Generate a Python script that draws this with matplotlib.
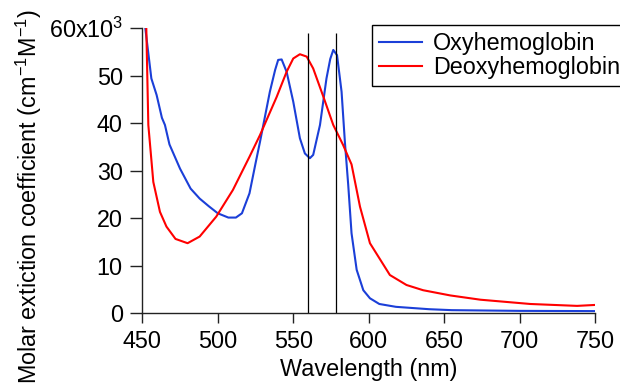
import matplotlib
matplotlib.use('Agg')
import matplotlib.pyplot as plt
import numpy as np

# font setup (Arial-like)
plt.rcParams['font.family'] = ['Liberation Sans', 'DejaVu Sans']
plt.rcParams['mathtext.fontset'] = 'custom'
plt.rcParams['mathtext.rm'] = 'Liberation Sans'
plt.rcParams['mathtext.it'] = 'Liberation Sans'
plt.rcParams['font.size'] = 16.8

# oxyhemoglobin (values in units of 10^3 cm-1 M-1)
oxy_wl = [450, 452, 456, 459.5, 463, 465, 468, 475, 482, 488, 494, 500, 507, 512,
          516, 521, 525, 528, 534.5, 538, 540, 542.3, 545.6, 550, 554.4, 557.7,
          561, 563.2, 567.7, 572, 574.5, 576.5, 579, 582, 584.2, 586.4, 588.6,
          592, 596.4, 600.8, 607, 618, 640, 655, 700, 750]
oxy_val = [62.8, 60.0, 49.4, 45.9, 41.1, 39.6, 35.5, 30.4, 26.2, 24.1, 22.5, 21.0,
           20.1, 20.1, 21.0, 25.2, 31.5, 36.1, 46.6, 51.2, 53.3, 53.4, 50.8, 44.5,
           36.8, 33.6, 32.6, 33.3, 39.6, 49.4, 53.5, 55.4, 54.3, 46.6, 36.0, 27.0,
           16.8, 9.1, 4.8, 3.1, 1.9, 1.3, 0.8, 0.6, 0.45, 0.4]

# deoxyhemoglobin
deoxy_wl = [450, 452, 454, 457.3, 461.7, 466, 472, 480, 488, 499, 510, 521, 528,
            539, 545.6, 550, 554.4, 558.9, 563.2, 570, 576.5, 583, 586.4, 588.6,
            594.2, 600.8, 614, 625, 636, 654, 674, 707, 738, 750]
deoxy_val = [103.0, 70.0, 39.6, 27.6, 21.3, 18.2, 15.6, 14.7, 16.1, 20.3, 25.9,
             32.9, 37.5, 45.5, 50.8, 53.6, 54.5, 54.0, 51.5, 45.5, 39.6, 35.4,
             32.9, 31.3, 22.4, 14.7, 8.0, 5.9, 4.8, 3.7, 2.8, 1.9, 1.5, 1.7]

# marker wavelengths (vertical lines)
marks = [560, 578]

yticks = [0, 10, 20, 30, 40, 50, 60]
ytick_labels = ['0', '10', '20', '30', '40', '50', r'60x10$^3$']
xticks = [450, 500, 550, 600, 650, 700, 750]

fig = plt.figure(figsize=(6.2, 3.85), dpi=100)
ax = fig.add_axes([0.2295, 0.187, 0.7305, 0.740])

ax.plot(oxy_wl, oxy_val, color='#1b3fd8', lw=1.5, label='Oxyhemoglobin')
ax.plot(deoxy_wl, deoxy_val, color='#ff0000', lw=1.5, label='Deoxyhemoglobin')
ax.vlines(marks, 0, 59, color='black', lw=0.9)

ax.set_xlim(450, 750)
ax.set_ylim(0, 60)
ax.set_xticks(xticks)
ax.set_yticks(yticks)
ax.set_yticklabels(ytick_labels)

for s in ['top', 'right']:
    ax.spines[s].set_visible(False)
for s in ['left', 'bottom']:
    ax.spines[s].set_color('#222222')
    ax.spines[s].set_linewidth(1.0)

ax.tick_params(axis='y', direction='out', length=9, width=1, pad=5, colors='#222222', labelcolor='black')
ax.tick_params(axis='x', direction='out', length=7.5, width=1, pad=5, colors='#222222', labelcolor='black')

ax.set_xlabel('Wavelength (nm)', labelpad=3)
ax.set_ylabel(r'Molar extiction coefficient (cm$^{-1}$M$^{-1}$)')
ax.yaxis.set_label_coords(-0.217, 0.407)

leg = fig.legend(loc='upper left', bbox_to_anchor=(0.6, 0.935), fancybox=False,
                 edgecolor='black', framealpha=1, handlelength=1.85,
                 handletextpad=0.45, labelspacing=0.05, borderpad=0.3,
                 borderaxespad=0)
leg.get_frame().set_linewidth(1.0)

fig.savefig('out.png', dpi=100)
